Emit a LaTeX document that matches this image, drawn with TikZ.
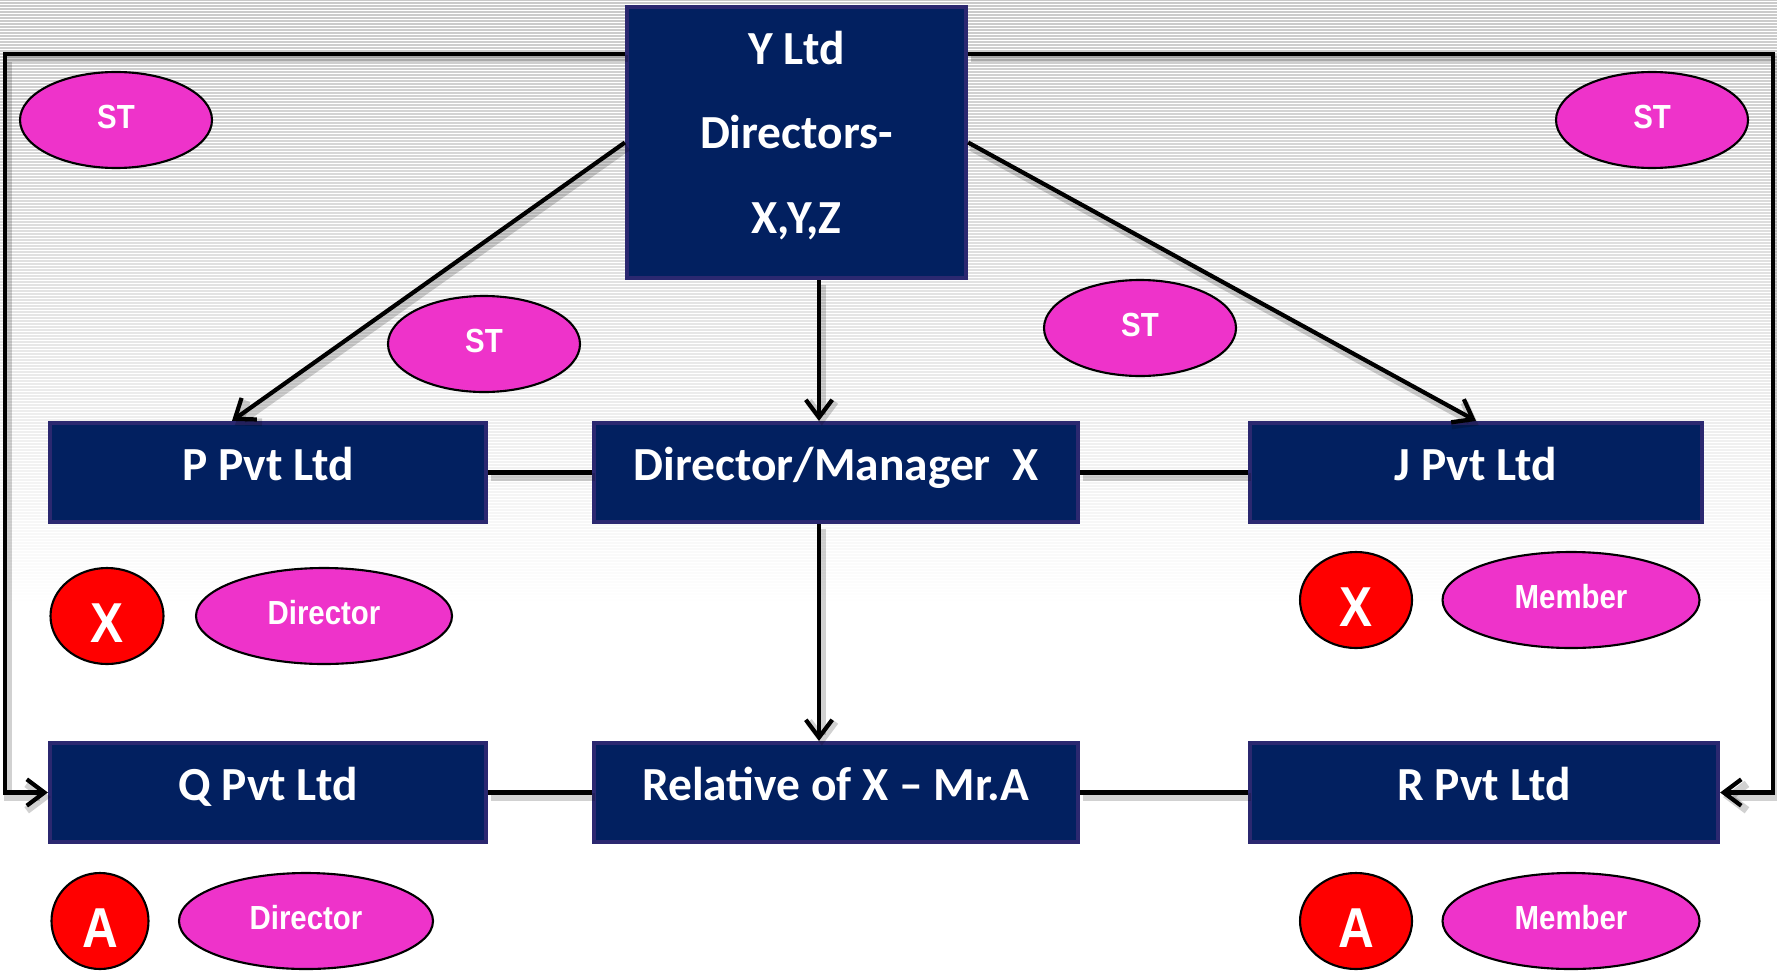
\documentclass[tikz,border=0pt]{standalone}
\usepackage{fontspec}
\newfontfamily\boxfont{Carlito}
\newfontfamily\ovalfont{Liberation Sans}[FakeStretch=0.88]
\usetikzlibrary{arrows.meta,shapes.geometric}
\definecolor{navy}{HTML}{022060}
\definecolor{navyedge}{HTML}{2B2870}
\definecolor{pinkfill}{HTML}{EE33CA}
\newlength\pu
\setlength\pu{0.01cm}

\begin{document}
\begin{tikzpicture}[x=0.01cm, y=-0.01cm,
  boxbase/.style={draw=navyedge, line width=1.2pt, fill=navy, text=white,
    font=\boxfont\bfseries\fontsize{13.5}{24}\selectfont, inner sep=0pt},
  firm/.style={boxbase, text height=8.7pt, text depth=4pt, minimum height=99\pu},
  oval/.style={ellipse, draw=black, line width=0.6pt, fill=pinkfill, text=white,
    font=\ovalfont\bfseries\fontsize{9.5}{11}\selectfont, inner sep=0pt, minimum height=96\pu,
    text height=6.8pt, text depth=2.2pt},
  person/.style={ellipse, draw=black, line width=0.6pt, fill=red, text=white,
    font=\ovalfont\bfseries\fontsize{16}{18}\selectfont, inner sep=0pt, minimum height=96\pu,
    text height=15pt, text depth=0pt},
  shade/.style={preaction={draw=black, draw opacity=0.18, line width=2.2pt,
    transform canvas={xshift=0.8pt, yshift=-1.3pt}}},
  link/.style={draw=black, line width=1.2pt, shade},
  flow/.style={link, -{Straight Barb[length=5pt,width=7.5pt]}}
]
\useasboundingbox (0,0) rectangle (1777,973);
\fill[white] (0,0) rectangle (1777,973);

% striped backdrop fading out downwards
\foreach \k in {0,...,200}{
  \pgfmathsetmacro\yy{3*\k}
  \pgfmathsetmacro\op{max(0,0.95-\yy/640)}
  \draw[black!22, line width=0.35pt, opacity=\op] (0,\yy) -- (1777,\yy);
}

% companies
\node[boxbase, minimum width=339\pu, minimum height=271\pu, align=center] (Y) at (796.5,142.5)
  {Y Ltd\\Directors-\\X,Y,Z\rule[-6pt]{0pt}{6pt}};
\node[firm, minimum width=436\pu] (P) at (268,472.5) {P Pvt Ltd};
\node[firm, minimum width=484\pu] (DM) at (836,472.5) {Director/Manager\ \ X};
\node[firm, minimum width=452\pu] (J) at (1476,472.5) {J Pvt Ltd};
\node[firm, minimum width=436\pu] (Q) at (268,792.5) {Q Pvt Ltd};
\node[firm, minimum width=484\pu] (Rel) at (836,792.5) {Relative of X – Mr.A};
\node[firm, minimum width=468\pu] (R) at (1484,792.5) {R Pvt Ltd};

% role tags
\node[oval, minimum width=192\pu] (st1) at (116,120) {ST};
\node[oval, minimum width=192\pu] (st2) at (1652,120) {ST};
\node[oval, minimum width=192\pu] (st3) at (484,344) {ST};
\node[oval, minimum width=192\pu] (st4) at (1140,328) {ST};
\node[person, minimum width=113\pu] (px1) at (107,616) {X};
\node[oval, minimum width=256\pu] (dir1) at (324,616) {Director};
\node[person, minimum width=112\pu] (px2) at (1356,600) {X};
\node[oval, minimum width=257\pu] (mem1) at (1571,600) {Member};
\node[person, minimum width=97\pu] (pa1) at (100,921) {A};
\node[oval, minimum width=254\pu] (dir2) at (306,921) {Director};
\node[person, minimum width=112\pu] (pa2) at (1356,921) {A};
\node[oval, minimum width=257\pu] (mem2) at (1571,921) {Member};

% connectors
\coordinate (tl) at (5,54);
\coordinate (tr) at (1773,54);
\coordinate (vx) at (819,0);
\draw[flow] (Y.west |- tl) -- (tl) |- (Q.west);
\draw[flow] (Y.east |- tr) -- (tr) |- (R.east);
\draw[flow] (Y.west) -- ([xshift=-36\pu]P.north);
\draw[flow] (Y.east) -- (J.north);
\draw[flow] (Y.south -| vx) -- (DM.north -| vx);
\draw[flow] (DM.south -| vx) -- (Rel.north -| vx);
\draw[link] (P.east) -- (DM.west);
\draw[link] (DM.east) -- (J.west);
\draw[link] (Q.east) -- (Rel.west);
\draw[link] (Rel.east) -- (R.west);
\end{tikzpicture}
\end{document}
